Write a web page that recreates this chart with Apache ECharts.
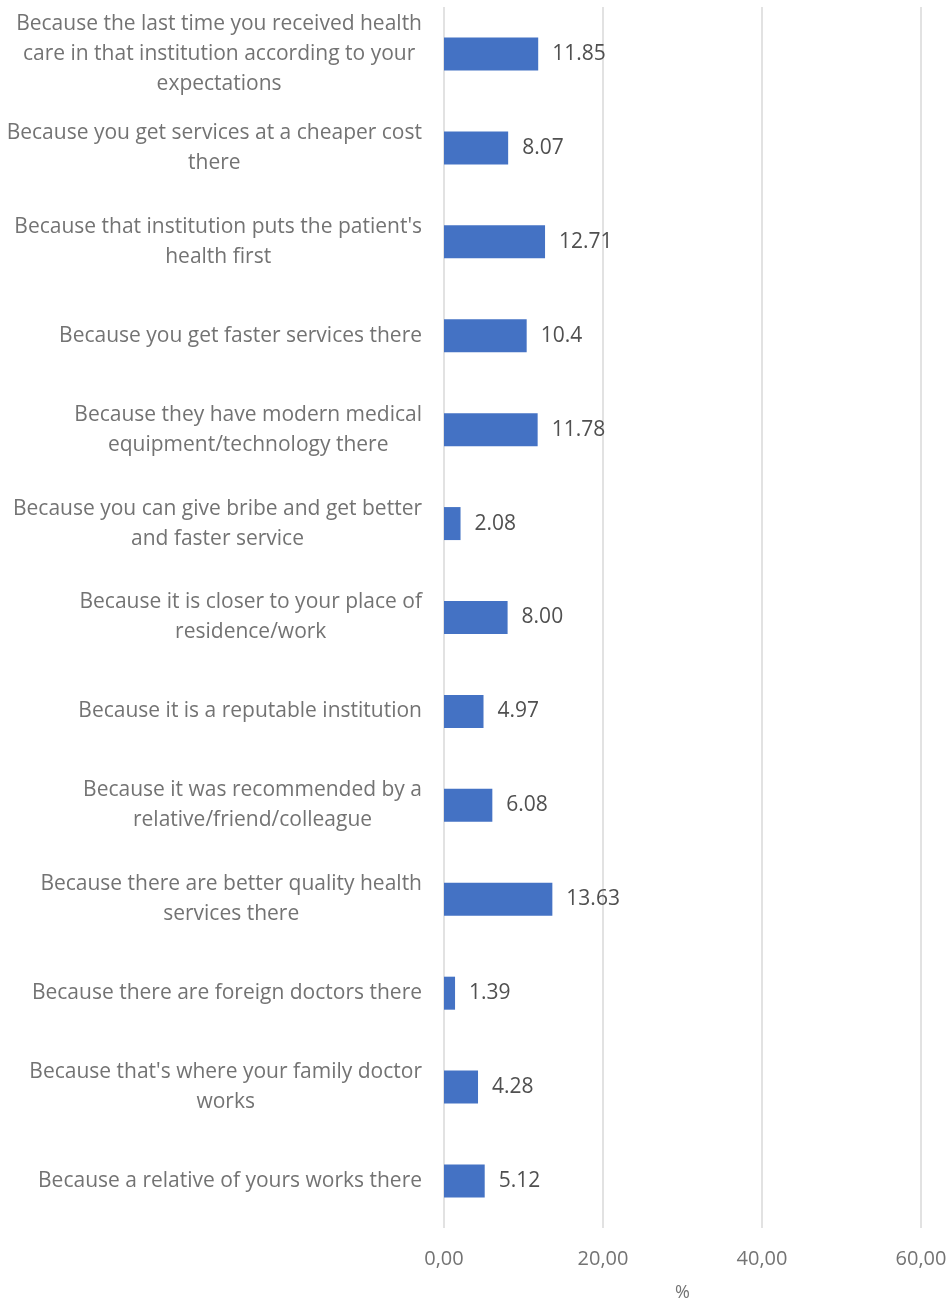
<!DOCTYPE html>
<html>
<head>
<meta charset="utf-8">
<script src="https://cdn.jsdelivr.net/npm/echarts@6/dist/echarts.min.js"></script>
<style>
  html, body { margin: 0; padding: 0; background: #ffffff; }
  #chart { width: 952px; height: 1303px; }
</style>
</head>
<body>
<div id="chart"></div>
<script>
// Reasons for choosing a health institution (share of respondents, %)
const categories = [
  "Because the last time you received health\ncare in that institution according to your\nexpectations",
  "Because you get services at a cheaper cost\nthere",
  "Because that institution puts the patient's\nhealth first",
  "Because you get faster services there",
  "Because they have modern medical\nequipment/technology there",
  "Because you can give bribe and get better\nand faster service",
  "Because it is closer to your place of\nresidence/work",
  "Because it is a reputable institution",
  "Because it was recommended by a\nrelative/friend/colleague",
  "Because there are better quality health\nservices there",
  "Because there are foreign doctors there",
  "Because that's where your family doctor\nworks",
  "Because a relative of yours works there"
];
const values = [11.85, 8.07, 12.71, 10.4, 11.78, 2.08, 8.00, 4.97, 6.08, 13.63, 1.39, 4.28, 5.12];
const valueLabels = ["11.85", "8.07", "12.71", "10.4", "11.78", "2.08", "8.00", "4.97", "6.08", "13.63", "1.39", "4.28", "5.12"];
const axisTicks = [0, 20, 40, 60];

const FONT = "'Open Sans', 'Noto Sans', sans-serif";
const CAT_TEXT = '#737373';
const VAL_TEXT = '#505050';

const chart = echarts.init(document.getElementById('chart'), null, { renderer: 'canvas' });
chart.setOption({
  animation: false,
  backgroundColor: '#ffffff',
  grid: { left: 444, right: 31, top: 7, bottom: 75, containLabel: false, outerBoundsMode: 'none' },
  xAxis: {
    type: 'value',
    min: axisTicks[0],
    max: axisTicks[axisTicks.length - 1],
    interval: axisTicks[1] - axisTicks[0],
    name: '%',
    nameLocation: 'middle',
    nameGap: 56,
    nameTextStyle: { color: CAT_TEXT, fontSize: 18, fontFamily: FONT },
    axisLine: { show: false },
    axisTick: { show: false },
    splitLine: { show: true, lineStyle: { color: '#d9d9d9', width: 1.5 } },
    axisLabel: {
      color: CAT_TEXT, fontSize: 20, fontFamily: FONT, margin: 21,
      formatter: v => v.toFixed(2).replace('.', ',')
    }
  },
  yAxis: {
    type: 'category',
    inverse: true,
    data: categories,
    axisLine: { show: false },
    axisTick: { show: false },
    axisLabel: {
      margin: 22,
      color: CAT_TEXT,
      fontSize: 21,
      fontFamily: FONT,
      lineHeight: 30,
      formatter: v => v.split('\n').map(l => '{c|' + l + '}').join('\n'),
      rich: { c: { align: 'center', color: CAT_TEXT, fontSize: 21, fontFamily: FONT, lineHeight: 30 } }
    }
  },
  series: [{
    type: 'bar',
    data: values,
    barWidth: 33,
    itemStyle: { color: '#4472c4' },
    label: {
      show: true,
      position: 'right',
      distance: 14,
      color: VAL_TEXT,
      fontSize: 21,
      fontFamily: FONT,
      formatter: p => valueLabels[p.dataIndex]
    }
  }]
});
</script>
</body>
</html>
